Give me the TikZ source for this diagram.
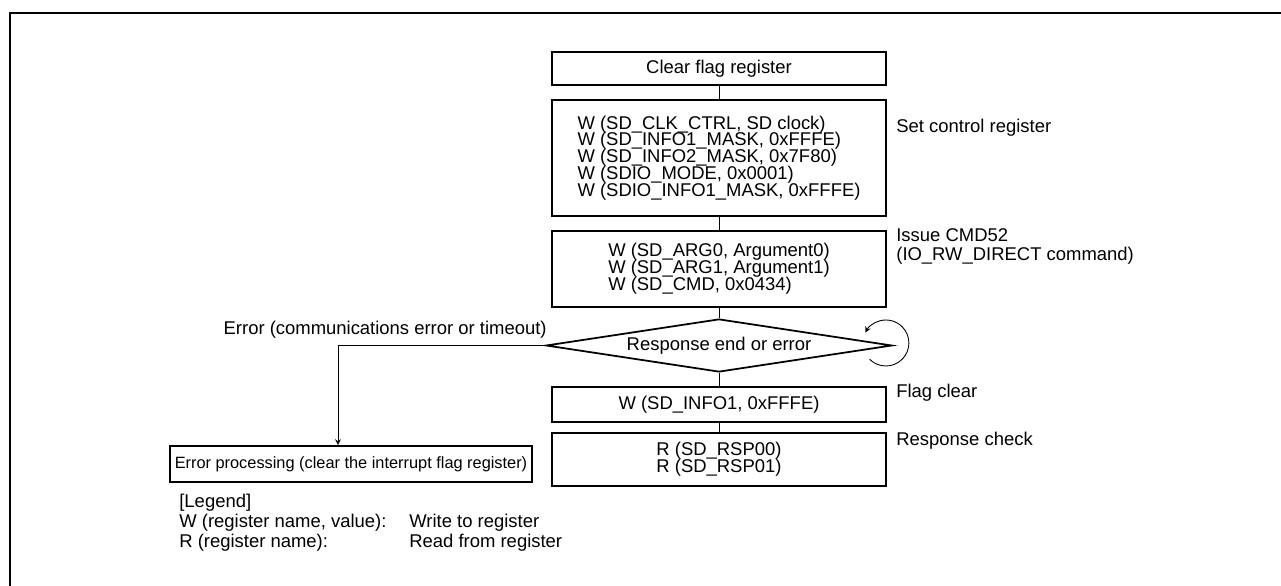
\documentclass[tikz,border=0pt]{standalone}
\usepackage{fontspec}
\setmainfont{Liberation Sans}
\usetikzlibrary{shapes.geometric}
\newcommand\tightlines{\lineskiplimit=-5pt\relax}
\begin{document}
\begin{tikzpicture}[>=stealth,
    regbox/.style={draw,line width=1pt,minimum width=6.68cm,inner sep=0pt,
      font=\fontsize{10.5}{9.6}\selectfont\tightlines},
    note/.style={anchor=west,inner sep=0pt,align=left,
      font=\fontsize{10.5}{10.6}\selectfont\tightlines},
    link/.style={line width=0.5pt}]
  \useasboundingbox (0,0) rectangle (25.62,-11.72);
  \draw[line width=1.1pt] (0.2,-11.72) -- (0.2,-0.26) -- (25.62,-0.26);

  \node[regbox,minimum height=0.66cm] (clr) at (14.38,-1.37) {Clear flag register};
  \node[regbox,minimum height=2.32cm,align=left] (ctrl) at (14.38,-3.16)
    {W (SD\_CLK\_CTRL, SD clock)\\
     W (SD\_INFO1\_MASK, 0xFFFE)\\
     W (SD\_INFO2\_MASK, 0x7F80)\\
     W (SDIO\_MODE, 0x0001)\\
     W (SDIO\_INFO1\_MASK, 0xFFFE)};
  \node[regbox,minimum height=1.52cm,align=left] (cmd) at (14.38,-5.38)
    {W (SD\_ARG0, Argument0)\\
     W (SD\_ARG1, Argument1)\\
     W (SD\_CMD, 0x0434)};
  \node[draw,diamond,aspect=6.5,line width=1pt,minimum width=6.92cm,
    minimum height=1.06cm,inner sep=0pt,font=\fontsize{10.5}{10.6}\selectfont]
    (resp) at (14.38,-6.91) {Response end or error};
  \node[regbox,minimum height=0.70cm] (flag) at (14.38,-8.09) {W (SD\_INFO1, 0xFFFE)};
  \node[regbox,minimum height=1.06cm,align=center] (rsp) at (14.38,-9.19)
    {R (SD\_RSP00)\\ R (SD\_RSP01)};
  \node[draw,line width=1pt,minimum width=7.24cm,minimum height=0.72cm,inner sep=0pt,
    font=\fontsize{9.3}{11}\selectfont] (err) at (7.02,-9.28)
    {Error processing (clear the interrupt flag register)};

  \draw[link] (clr) -- (ctrl);
  \draw[link] (ctrl) -- (cmd);
  \draw[link] (cmd) -- (resp.north);
  \draw[link] (resp.south) -- (flag);
  \draw[link] (flag) -- (rsp);
  \draw[link,->] (resp.west) -| ([xshift=-0.26cm]err.north);
  \coordinate (loopc) at ([xshift=-0.14cm,yshift=0.05cm]resp.east);
  \draw[link,->] ([shift={(-135:0.46)}]loopc) arc[start angle=-135,end angle=153,radius=0.46];

  \node[anchor=base east,inner sep=0pt,font=\fontsize{10.5}{10.6}\selectfont] (errlbl)
    at (10.94,-6.68) {Error (communications error or timeout)};
  \node[note] (ctrllbl) at (17.92,-2.56) {Set control register};
  \node[note] (cmdlbl) at (17.92,-4.93) {Issue CMD52\\(IO\_RW\_DIRECT command)};
  \node[note] (flaglbl) at (17.92,-7.86) {Flag clear};
  \node[note] (rsplbl) at (17.92,-8.82) {Response check};

  \node[note] (legend) at (3.58,-10.06) {[Legend]};
  \node[note] (legw) at (3.58,-10.45) {W (register name, value):};
  \node[note] (legwtxt) at (8.18,-10.45) {Write to register};
  \node[note] (legr) at (3.58,-10.85) {R (register name):};
  \node[note] (legrtxt) at (8.18,-10.85) {Read from register};
\end{tikzpicture}
\end{document}
